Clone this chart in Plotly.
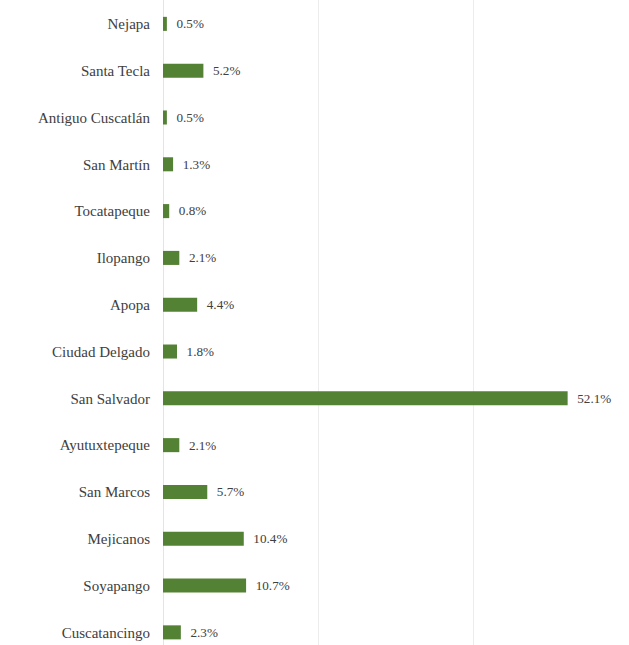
import plotly.graph_objects as go

# Municipalities, top to bottom
municipios = [
    "Nejapa", "Santa Tecla", "Antiguo Cuscatlán", "San Martín", "Tocatapeque",
    "Ilopango", "Apopa", "Ciudad Delgado", "San Salvador", "Ayutuxtepeque",
    "San Marcos", "Mejicanos", "Soyapango", "Cuscatancingo",
]
# Share of total (%)
porcentajes = [0.5, 5.2, 0.5, 1.3, 0.8, 2.1, 4.4, 1.8, 52.1, 2.1, 5.7, 10.4, 10.7, 2.3]

font_family = "Times New Roman, Liberation Serif, DejaVu Serif, serif"
text_color = "#404040"

fig = go.Figure(
    go.Bar(
        x=porcentajes,
        y=municipios,
        orientation="h",
        marker=dict(color="#548235", line=dict(width=0)),
        text=[f"{v:.1f}%" for v in porcentajes],
        texttemplate="  %{text}",
        textposition="outside",
        cliponaxis=False,
        textfont=dict(family=font_family, size=15, color=text_color),
        width=0.3,
    )
)

fig.update_layout(
    width=629,
    height=645,
    margin=dict(l=163, r=0, t=0, b=0),
    paper_bgcolor="white",
    plot_bgcolor="white",
    showlegend=False,
    font=dict(family=font_family, size=15, color=text_color),
)

fig.update_xaxes(
    range=[0, 60],
    dtick=20,
    showgrid=True,
    gridcolor="#ececec",
    gridwidth=1,
    zeroline=True,
    zerolinecolor="#e4e4e4",
    zerolinewidth=1,
    showticklabels=False,
    ticks="",
)

fig.update_yaxes(
    categoryorder="array",
    categoryarray=municipios,
    range=[13.27, -0.51],
    showgrid=False,
    zeroline=False,
    ticks="",
    ticklabelstandoff=12,
    tickfont=dict(family=font_family, size=15, color=text_color),
)

fig.write_html("out.html")
